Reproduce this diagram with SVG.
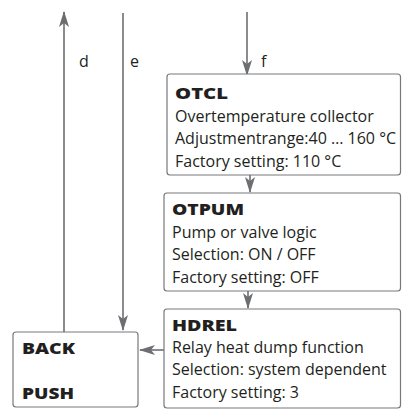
<svg xmlns="http://www.w3.org/2000/svg" width="406" height="415" viewBox="0 0 406 415">
<style>
.box{fill:#fff;stroke:#77787b;stroke-width:1.2}
.ln{fill:none;stroke:#6d6e71;stroke-width:1.6}
text{font-family:"Open Sans",Lato,sans-serif;font-size:16px;fill:#231f20}
.b{font-weight:800;font-size:16px}
</style>
<defs>
<marker id="ah" viewBox="0 0 16 10" refX="15" refY="5" markerWidth="16" markerHeight="10" markerUnits="userSpaceOnUse" orient="auto">
<path d="M0,0 L16,5 L0,10 L4,5 Z" fill="#6d6e71"/>
</marker>
</defs>
<rect width="406" height="415" fill="#fff"/>
<g id="connectors">
<path class="ln" d="M64,332 V12" marker-end="url(#ah)"/>
<path class="ln" d="M123,13 V330" marker-end="url(#ah)"/>
<path class="ln" d="M247,12 V75" marker-end="url(#ah)"/>
<path class="ln" d="M250,175 V192" marker-end="url(#ah)"/>
<path class="ln" d="M248,291 V308" marker-end="url(#ah)"/>
<path class="ln" d="M164,350 H140" marker-end="url(#ah)"/>
</g>
<g id="labels">
<text x="79" y="67">d</text>
<text x="130" y="67">e</text>
<text x="261" y="67">f</text>
</g>
<g id="otcl">
<rect class="box" x="167" y="74" width="233.5" height="101" rx="3"/>
<text class="b" x="175" y="99" textLength="53" lengthAdjust="spacingAndGlyphs">OTCL</text>
<text x="175" y="122">Overtemperature collector</text>
<text x="175" y="144">Adjustmentrange:40 … 160 °C</text>
<text x="175" y="167">Factory setting: 110 °C</text>
</g>
<g id="otpum">
<rect class="box" x="164" y="193" width="236.5" height="98" rx="3"/>
<text class="b" x="172" y="215" textLength="72" lengthAdjust="spacingAndGlyphs">OTPUM</text>
<text x="172" y="238">Pump or valve logic</text>
<text x="172" y="260">Selection: ON / OFF</text>
<text x="172" y="283">Factory setting: OFF</text>
</g>
<g id="hdrel">
<rect class="box" x="164" y="309" width="236.5" height="99" rx="3"/>
<text class="b" x="172" y="331" textLength="65" lengthAdjust="spacingAndGlyphs">HDREL</text>
<text x="172" y="353">Relay heat dump function</text>
<text x="172" y="375">Selection: system dependent</text>
<text x="172" y="398">Factory setting: 3</text>
</g>
<g id="back">
<rect class="box" x="13" y="332" width="125" height="75" rx="3"/>
<text class="b" x="22" y="354" textLength="53" lengthAdjust="spacingAndGlyphs">BACK</text>
<text class="b" x="22" y="399" textLength="52" lengthAdjust="spacingAndGlyphs">PUSH</text>
</g>
</svg>
